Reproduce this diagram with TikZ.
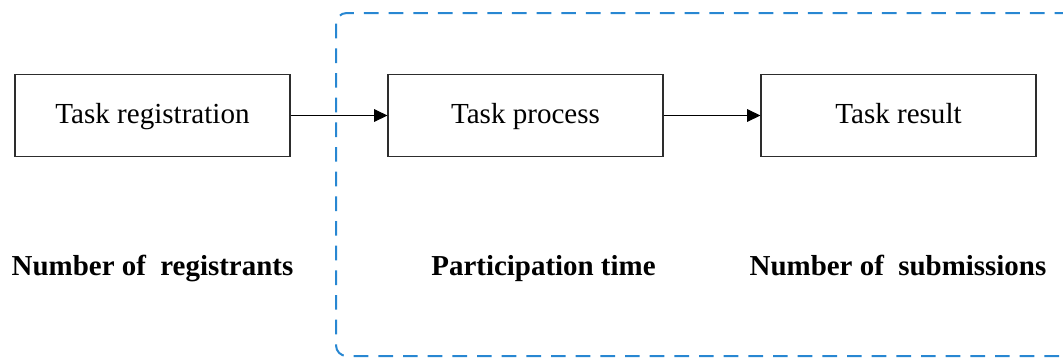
\documentclass[tikz,border=0pt]{standalone}
\usepackage{fontspec}
\setmainfont{Liberation Serif}
\usetikzlibrary{arrows.meta}
\definecolor{groupblue}{RGB}{40,135,210}
\definecolor{boxline}{RGB}{45,45,45}
\tikzset{
  stagebox/.style={draw=boxline, line width=1.1pt, minimum width=206pt, minimum height=61.5pt,
    inner sep=0pt, text height=15pt, text depth=2.5pt, font=\fontsize{21.8}{26}\selectfont},
  metric/.style={font=\fontsize{21.7}{26}\selectfont\bfseries, inner sep=0pt, anchor=base},
  flow/.style={line width=0.8pt, -{Triangle[length=10pt,width=9.5pt]}},
  group/.style={draw=groupblue, line width=1.5pt, dash pattern=on 11pt off 7.5pt, rounded corners=8pt}
}
\begin{document}
\begin{tikzpicture}[x=0.75pt,y=-0.75pt]
  \useasboundingbox (0,0) rectangle (1063,358);
  \clip (0,0) rectangle (1063,358);
  % dashed group around the process and result stages
  \draw[group] (336,13) rectangle (1075,356);
  % stages
  \node[stagebox] (reg) at (152.5,115.5) {Task registration};
  \node[stagebox] (proc) at (525.5,115.5) {Task process};
  \node[stagebox] (res) at (898.5,115.5) {Task result};
  % flow between stages
  \draw[flow] (reg) -- (proc);
  \draw[flow] (proc) -- (res);
  % measured quantities
  \node[metric] (m1) at (152.5,275) {Number of\ \ registrants};
  \node[metric] (m2) at (543.5,275) {Participation time};
  \node[metric] (m3) at (898,275) {Number of\ \ submissions};
\end{tikzpicture}
\end{document}
